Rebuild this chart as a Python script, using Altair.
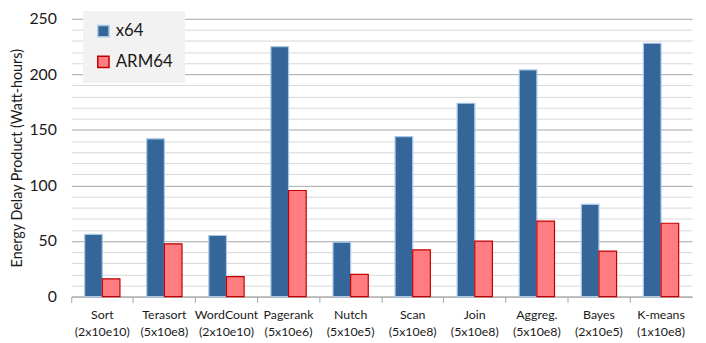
import altair as alt
import pandas as pd

categories = ["Sort\n(2x10e10)", "Terasort\n(5x10e8)", "WordCount\n(2x10e10)", "Pagerank\n(5x10e6)",
              "Nutch\n(5x10e5)", "Scan\n(5x10e8)", "Join\n(5x10e8)", "Aggreg.\n(5x10e8)",
              "Bayes\n(2x10e5)", "K-means\n(1x10e8)"]
x64 = [56, 142, 55, 225, 49, 144, 174, 204, 83, 228]
arm64 = [16, 47.5, 18, 95.5, 20, 42, 50, 68, 41, 66]
series = ["x64", "ARM64"]

rows = []
for c, a, b in zip(categories, x64, arm64):
    rows.append({"cat": c, "series": "x64", "value": a})
    rows.append({"cat": c, "series": "ARM64", "value": b})
df = pd.DataFrame(rows)

FONT = "Lato"

chart = alt.Chart(df).mark_bar(strokeWidth=1.2).encode(
    x=alt.X("cat:N", sort=categories, title=None,
            scale=alt.Scale(paddingInner=0, paddingOuter=0),
            axis=alt.Axis(labelExpr="split(datum.label, '\\n')", labelAngle=0,
                          labelFontSize=12.5, labelColor="#1a1a1a", labelFont=FONT,
                          labelPadding=6, labelLineHeight=17,
                          bandPosition=0, ticks=True, tickSize=6, tickColor="#a6a6a6",
                          domainColor="#a6a6a6", grid=False)),
    xOffset=alt.XOffset("series:N", sort=series,
                        scale=alt.Scale(paddingInner=0, paddingOuter=0.76)),
    y=alt.Y("value:Q", title="Energy Delay Product (Watt-hours)",
            scale=alt.Scale(domain=[0, 250], nice=False),
            axis=alt.Axis(values=list(range(0, 251, 10)),
                          labelExpr="datum.value % 50 === 0 ? datum.label : ''",
                          labelFontSize=16, labelColor="#1a1a1a", labelFont=FONT,
                          labelPadding=15, ticks=False, domain=False,
                          gridColor={"condition": {"test": "datum.value % 50 === 0", "value": "#a6a6a6"},
                                     "value": "#d9d9d9"},
                          titleFontSize=14.5, titleFont=FONT, titleFontWeight="normal",
                          titleColor="#1a1a1a", titlePadding=4)),
    fill=alt.Fill("series:N", sort=series, title=None,
                  scale=alt.Scale(domain=series, range=["#346699", "#ff7c80"])),
    stroke=alt.Stroke("series:N", sort=series, title=None,
                      scale=alt.Scale(domain=series, range=["#a9c8e8", "#c00000"])),
).properties(
    width=628, height=281,
    autosize="none",
    padding={"left": 64, "top": 9, "right": 6, "bottom": 45},
).configure_view(stroke=None).configure_legend(
    orient="none", legendX=12, legendY=-8, fillColor="#f2f2f2",
    padding=12, labelFontSize=17, labelFont=FONT, labelColor="#1a1a1a",
    symbolType="square", symbolSize=130, symbolStrokeWidth=1.5, rowPadding=12,
    labelOffset=4, labelLimit=200,
)

chart.save("out.html", embed_options={"renderer": "svg", "actions": False})
